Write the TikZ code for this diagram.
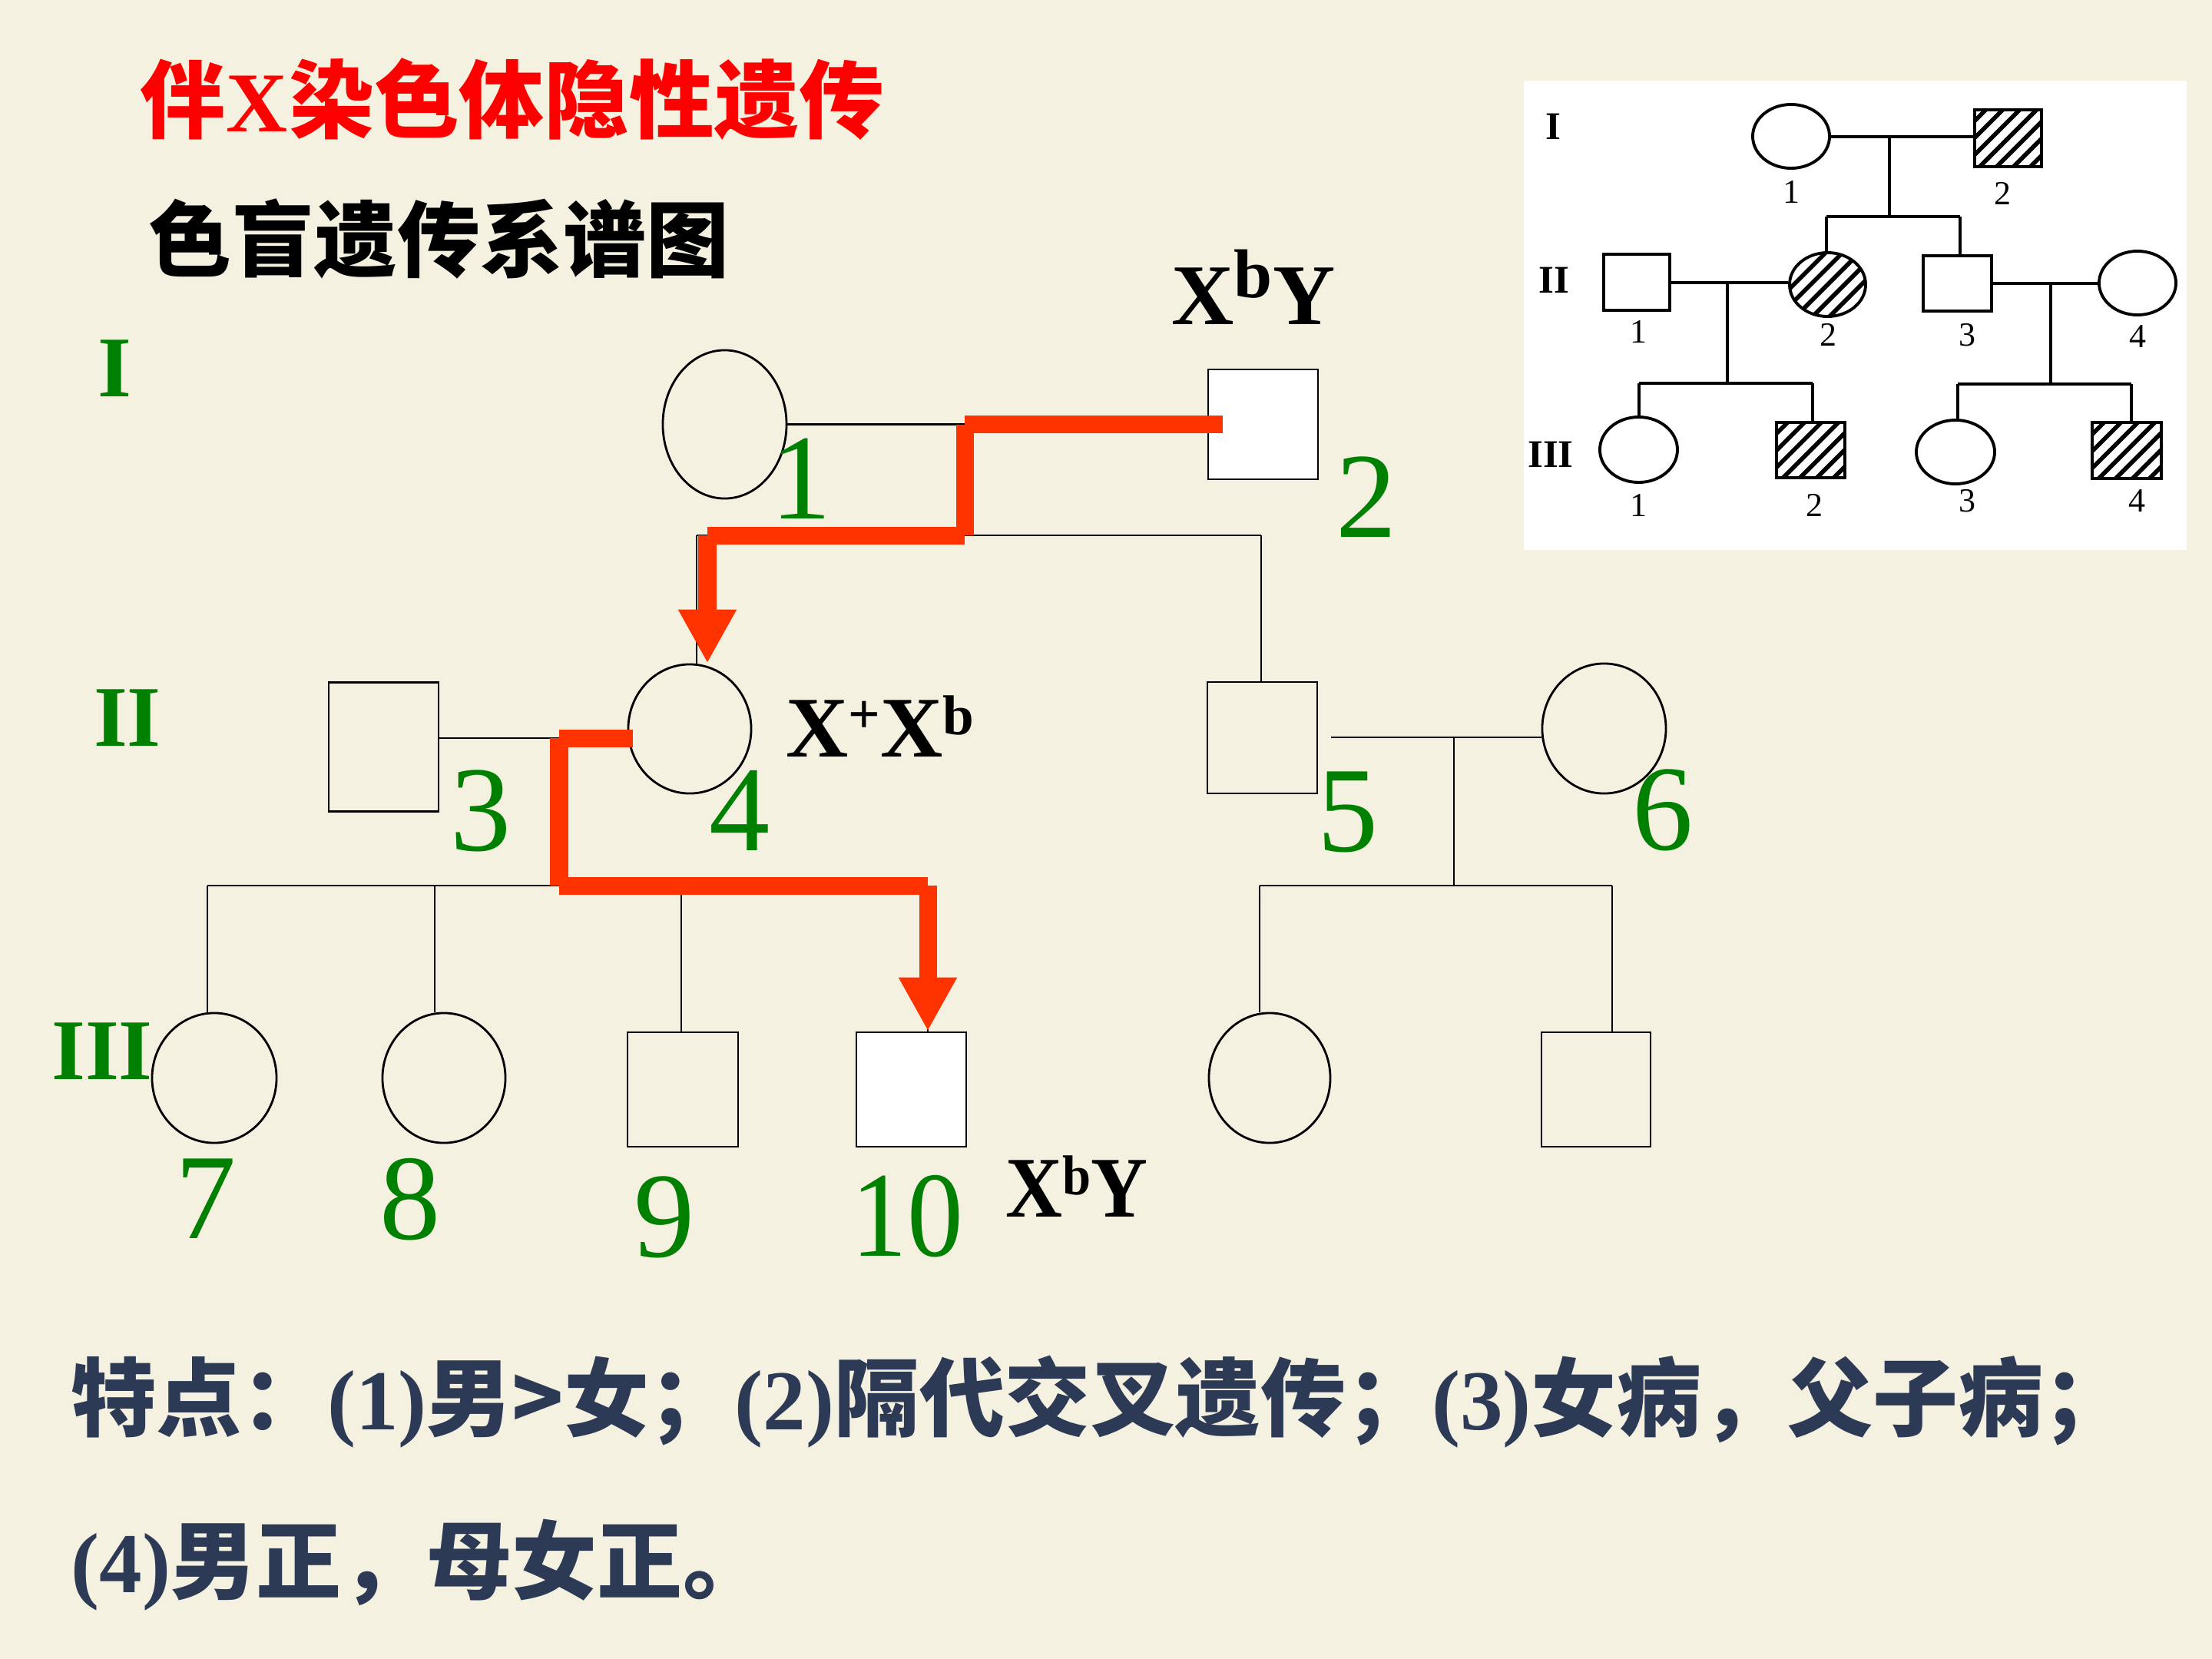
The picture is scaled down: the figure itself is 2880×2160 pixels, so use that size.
\documentclass[tikz,border=0pt]{standalone}
\usepackage{fontspec}
\setmainfont{Liberation Serif}
\newfontfamily\cjk{Noto Sans CJK SC}
\usetikzlibrary{arrows.meta,shapes.geometric}
\definecolor{bg}{HTML}{F4F1E1}
\definecolor{ttred}{HTML}{FF0000}
\definecolor{pathred}{HTML}{FF3300}
\definecolor{lblgreen}{HTML}{008000}
\definecolor{navy}{HTML}{2D3A55}
\newcommand\mysup[3]{\raisebox{#2}{\scalebox{#1}{#3}}}
\tikzset{
  ln/.style={line width=0.8pt, draw=black},
  msq/.style={draw=black, line width=0.8pt, rectangle, inner sep=0pt},
  mci/.style={draw=black, line width=0.8pt, ellipse, inner sep=0pt},
  sz/.style 2 args={minimum width=#1, minimum height=#2},
  iln/.style={line width=1.1pt, draw=black},
  isq/.style={draw=black, line width=1.1pt, rectangle, inner sep=0pt, fill=white},
  ici/.style={draw=black, line width=1.1pt, ellipse, inner sep=0pt, fill=white},
  hatch/.style={path picture={
    \foreach \k in {-7,...,7}
      \draw[line width=1.6pt] ([xshift=\k*0.22cm-0.8cm, yshift=-0.8cm]path picture bounding box.center) -- ++(1.6cm,1.6cm);
  }},
  redseg/.style={draw=pathred, line width=0.23cm, line cap=butt},
  redarrow/.style={draw=pathred, line width=0.23cm, line cap=butt, -{Triangle[length=0.70cm,width=0.71cm]}},
  digit/.style={text=lblgreen, inner sep=0pt, font=\fontsize{45pt}{45pt}\selectfont},
  roman/.style={text=lblgreen, inner sep=0pt, font=\bfseries\fontsize{32pt}{32pt}\selectfont},
  geno/.style={anchor=base west, inner sep=0pt, font=\bfseries\fontsize{32pt}{32pt}\selectfont},
  idig/.style={inner sep=0pt, font=\fontsize{12.5pt}{12.5pt}\selectfont},
  irom/.style={inner sep=0pt, font=\bfseries\fontsize{14.5pt}{14.5pt}\selectfont},
  titlecjk/.style={inner sep=0pt, text=ttred, font=\cjk\bfseries\fontsize{31.5pt}{32pt}\selectfont},
  titlelat/.style={anchor=base west, inner sep=0pt, text=ttred, font=\bfseries\fontsize{31.5pt}{32pt}\selectfont},
  bodytext/.style={anchor=west, inner sep=0pt, text=navy, font=\cjk\bfseries\fontsize{31.6pt}{32pt}\selectfont}
}
\begin{document}
\begin{tikzpicture}[x=0.01cm, y=-0.01cm]
\fill[bg] (0,0) rectangle (2880,2160);
\useasboundingbox (0,0) rectangle (2880,2160);

% ---------- titles ----------
\node[titlecjk, anchor=west] (title1) at (182,130) {伴};
\node[titlelat] (titleX) at (title1.base east) {X};
\node[titlecjk, anchor=base west] (title2) at (titleX.base east) {染色体隐性遗传};
\node[anchor=west, inner sep=0pt, font=\cjk\bfseries\fontsize{30.7pt}{31pt}\selectfont] (subtitle) at (193,311) {色盲遗传系谱图};

% ---------- generation numerals ----------
\node[roman] (gI) at (149,480) {I};
\node[roman] (gII) at (166,935) {II};
\node[roman] (gIII) at (133,1369) {III};

% ---------- individuals ----------
\node[mci, sz={1.61cm}{1.93cm}] (I1) at (943.5,552.5) {};
\node[msq, sz={1.43cm}{1.43cm}, fill=white] (I2) at (1644.5,552.5) {};
\node[msq, sz={1.43cm}{1.68cm}] (II3) at (499.5,972.5) {};
\node[mci, sz={1.60cm}{1.68cm}] (II4) at (898,949) {};
\node[msq, sz={1.43cm}{1.45cm}] (II5) at (1643.5,960.5) {};
\node[mci, sz={1.61cm}{1.69cm}] (II6) at (2088.5,948.5) {};
\node[mci, sz={1.62cm}{1.69cm}] (III7) at (279,1403.5) {};
\node[mci, sz={1.60cm}{1.69cm}] (III8) at (578,1403.5) {};
\node[msq, sz={1.44cm}{1.49cm}] (III9) at (889,1418.5) {};
\node[msq, sz={1.43cm}{1.49cm}, fill=white] (III10) at (1186.5,1418.5) {};
\node[mci, sz={1.58cm}{1.69cm}] (III11) at (1653,1403.5) {};
\node[msq, sz={1.42cm}{1.49cm}] (III12) at (2078,1418.5) {};

% ---------- junctions ----------
\coordinate (m1) at (1256,552.5);
\coordinate (s1) at (1256,697);
\coordinate (s1l) at (907,697);
\coordinate (s1r) at (1642,697);
\coordinate (m2) at (728,961);
\coordinate (s2) at (728,1153);
\coordinate (s2l) at (270,1153);
\coordinate (d8) at (566,1153);
\coordinate (d9) at (887,1153);
\coordinate (s2r) at (1208,1153);
\coordinate (m3l) at (1733,960);
\coordinate (m3) at (1893,960);
\coordinate (s3) at (1893,1153);
\coordinate (s3l) at (1640,1153);
\coordinate (s3r) at (2099,1153);

% ---------- black pedigree lines ----------
\draw[ln] (I1.east) -- (I2.west);
\draw[ln] (m1) -- (s1);
\draw[ln] (s1l) -- (s1r);
\draw[ln] (s1l) -- (s1l |- II4.north);
\draw[ln] (s1r) -- (s1r |- II5.north);
\draw[ln] (II3.east |- m2) -- (II4.west |- m2);
\draw[ln] (m2) -- (s2);
\draw[ln] (s2l) -- (s2r);
\draw[ln] (s2l) -- (s2l |- III7.north);
\draw[ln] (d8) -- (d8 |- III8.north);
\draw[ln] (d9) -- (d9 |- III9.north);
\draw[ln] (s2r) -- (s2r |- III10.north);
\draw[ln] (m3l) -- (II6.west |- m3);
\draw[ln] (m3) -- (s3);
\draw[ln] (s3l) -- (s3r);
\draw[ln] (s3l) -- (s3l |- III11.north);
\draw[ln] (s3r) -- (s3r |- III12.north);

% ---------- red inheritance path ----------
\coordinate (r0) at (1592,552.5);
\coordinate (r1) at (921,697);
\coordinate (r2) at (824,961);
\draw[redseg] (r0) -- (m1);
\draw[redseg] (m1) -- (s1);
\draw[redseg] (s1) -- (r1);
\draw[redarrow] (r1) -- (r1 |- II4.north);
\draw[redseg] (r2) -- (m2);
\draw[redseg] (m2) -- (s2);
\draw[redseg] (s2) -- (s2r);
\draw[redarrow] (s2r) -- (s2r |- III10.north);

% ---------- numbers ----------
\node[digit] (n1) at (1043,623) {1};
\node[digit] (n2) at (1779,647) {2};
\node[digit] (n3) at (626,1056) {3};
\node[digit] (n4) at (963,1055) {4};
\node[digit] (n5) at (1755,1057) {5};
\node[digit] (n6) at (2165,1055) {6};
\node[digit] (n7) at (268,1561) {7};
\node[digit] (n8) at (534,1562) {8};
\node[digit] (n9) at (865,1585) {9};
\node[digit] (n10) at (1181,1584) {\scalebox{0.92}[1]{10}};

% ---------- genotypes ----------
\node[geno] (gt2) at (1525,422) {X\mysup{0.8}{0.31em}{b}Y};
\node[geno] (gt4) at (1023,985) {X\mysup{0.65}{0.27em}{+}X\mysup{0.65}{0.25em}{b}};
\node[geno] (gt10) at (1309,1584) {\scalebox{0.91}[1]{X\mysup{0.65}{0.25em}{b}Y}};

% ---------- inset pedigree ----------
\node[fill=white, inner sep=0pt, sz={8.63cm}{6.11cm}] (inset) at (2415.5,410.5) {};
\node[ici, sz={1.00cm}{0.83cm}] (iI1) at (2332,177.5) {};
\node[isq, sz={0.87cm}{0.74cm}, hatch] (iI2) at (2614.5,180) {};
\node[isq, sz={0.86cm}{0.73cm}] (iII1) at (2131,367.5) {};
\node[ici, sz={0.99cm}{0.83cm}, hatch] (iII2) at (2379.5,370.5) {};
\node[isq, sz={0.89cm}{0.72cm}] (iII3) at (2548.5,369) {};
\node[ici, sz={1.00cm}{0.83cm}] (iII4) at (2783,368.5) {};
\node[ici, sz={1.01cm}{0.85cm}] (iIII1) at (2133.5,585.5) {};
\node[isq, sz={0.89cm}{0.72cm}, hatch] (iIII2) at (2357.5,586) {};
\node[ici, sz={1.02cm}{0.83cm}] (iIII3) at (2546,588.5) {};
\node[isq, sz={0.90cm}{0.73cm}, hatch] (iIII4) at (2769,586.5) {};

\coordinate (im1) at (2460,178);
\coordinate (is1) at (2460,282);
\coordinate (is1l) at (2378,282);
\coordinate (is1r) at (2552,282);
\coordinate (im2) at (2249,368);
\coordinate (is2) at (2249,499);
\coordinate (is2l) at (2134,499);
\coordinate (is2r) at (2360,499);
\coordinate (im3) at (2670,369);
\coordinate (is3) at (2670,500);
\coordinate (is3l) at (2549,500);
\coordinate (is3r) at (2775,500);

\draw[iln] (iI1.east |- im1) -- (iI2.west |- im1);
\draw[iln] (im1) -- (is1);
\draw[iln] (is1l) -- (is1r);
\draw[iln] (is1l) -- (is1l |- iII2.north);
\draw[iln] (is1r) -- (is1r |- iII3.north);
\draw[iln] (iII1.east |- im2) -- (iII2.west |- im2);
\draw[iln] (im2) -- (is2);
\draw[iln] (is2l) -- (is2r);
\draw[iln] (is2l) -- (is2l |- iIII1.north);
\draw[iln] (is2r) -- (is2r |- iIII2.north);
\draw[iln] (iII3.east |- im3) -- (iII4.west |- im3);
\draw[iln] (im3) -- (is3);
\draw[iln] (is3l) -- (is3r);
\draw[iln] (is3l) -- (is3l |- iIII3.north);
\draw[iln] (is3r) -- (is3r |- iIII4.north);

\node[irom] (igI) at (2022,165) {I};
\node[irom] (igII) at (2023,365) {II};
\node[irom] (igIII) at (2019,592) {III};
\node[idig] (il11) at (2332,250) {1};
\node[idig] (il12) at (2607,252) {2};
\node[idig] (il21) at (2133,432) {1};
\node[idig] (il22) at (2380,436) {2};
\node[idig] (il23) at (2561,436) {3};
\node[idig] (il24) at (2783,438) {4};
\node[idig] (il31) at (2133,658) {1};
\node[idig] (il32) at (2362,658) {2};
\node[idig] (il33) at (2561,652) {3};
\node[idig] (il34) at (2782,652) {4};

% ---------- bottom text ----------
\node[bodytext] (feat1) at (92,1825) {特点：{\normalfont\bfseries(1)}男>女；{\normalfont\bfseries(2)}隔代交叉遗传；{\normalfont\bfseries(3)}女病，父子病；};
\node[bodytext] (feat2) at (92,2038) {{\normalfont\bfseries(4)}男正，母女正。};
\end{tikzpicture}
\end{document}
